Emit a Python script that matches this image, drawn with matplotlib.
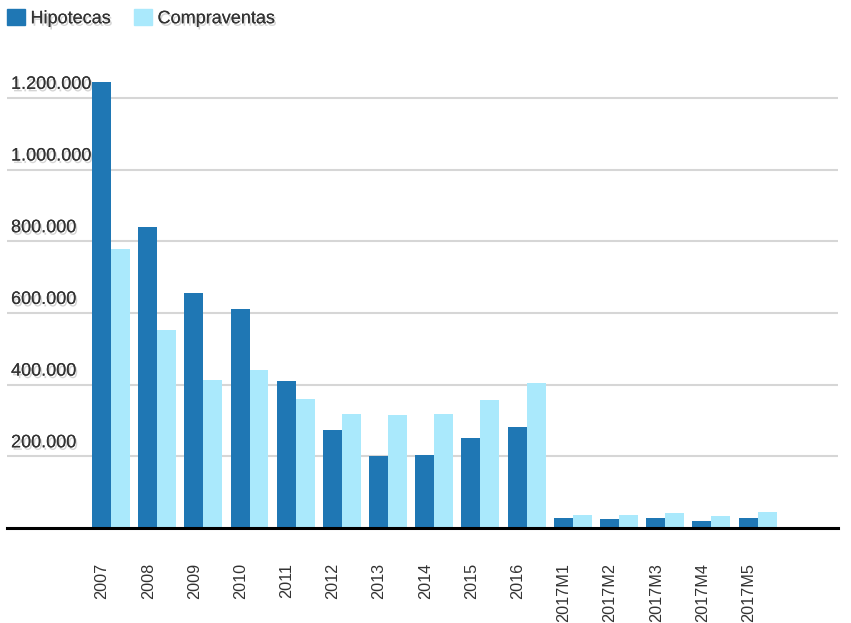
import numpy as np
import matplotlib.pyplot as plt
import matplotlib.transforms as mtransforms
import matplotlib.patheffects as pe
from matplotlib.patches import Patch

plt.rcParams['font.family'] = ['Liberation Sans', 'DejaVu Sans']

# data
categories = ["2007", "2008", "2009", "2010", "2011", "2012", "2013", "2014",
              "2015", "2016", "2017M1", "2017M2", "2017M3", "2017M4", "2017M5"]
hipotecas = [1244000, 840000, 655000, 611000, 410000, 273000, 201000, 204000,
             251000, 282000, 28000, 25000, 28000, 20000, 28000]
compraventas = [778000, 552000, 413000, 441000, 360000, 318000, 315000, 318000,
                357000, 404000, 37000, 37000, 42000, 34000, 45000]
yticks = [200000, 400000, 600000, 800000, 1000000, 1200000]
ytick_labels = ["200.000", "400.000", "600.000", "800.000", "1.000.000", "1.200.000"]

dark = "#1f77b4"
light = "#aae9fc"
text_color = "#333333"
shadow = [pe.withSimplePatchShadow(offset=(1.2, -1.8), shadow_rgbFace="#555555", alpha=0.25),
          pe.Normal()]

fig = plt.figure(figsize=(8.51, 6.23), dpi=100)
ax = fig.add_axes([7 / 851, 1 - 528 / 623, (838 - 7) / 851, (528 - 62) / 623])

x = np.arange(len(categories))
w = 0.411
ax.bar(x - w / 2, hipotecas, width=w, color=dark, zorder=3)
ax.bar(x + w / 2, compraventas, width=w, color=light, zorder=3)

ax.set_xlim(-2.25, 15.74)
ax.set_ylim(0, 1300000)

# grid lines
for v in yticks:
    ax.axhline(v, color="#d6d6d6", lw=1.5, zorder=1)

# y labels drawn inside the plot
lab_tr = mtransforms.offset_copy(ax.get_yaxis_transform(), fig=fig, x=4, y=9, units="dots")
for v, s in zip(yticks, ytick_labels):
    ax.text(0, v, s, transform=lab_tr, ha="left", va="baseline", fontsize=13,
            color=text_color, path_effects=shadow, zorder=4)

ax.set_yticks([])
for s in ["top", "right", "left"]:
    ax.spines[s].set_visible(False)
ax.spines["bottom"].set_linewidth(2.2)
ax.spines["bottom"].set_color("black")
ax.spines["bottom"].set_zorder(5)

ax.set_xticks(x)
ax.set_xticklabels(categories, rotation=90, fontsize=11.7, color=text_color)
ax.tick_params(axis="x", length=0, pad=25)
shift = mtransforms.ScaledTranslation(-9 / 100, 0, fig.dpi_scale_trans)
for lbl in ax.get_xticklabels():
    lbl.set_transform(lbl.get_transform() + shift)

handles = [Patch(color=dark, label="Hipotecas"), Patch(color=light, label="Compraventas")]
leg = fig.legend(handles=handles, loc="upper left", bbox_to_anchor=(7 / 851, 1 - 9 / 623),
                 ncol=2, frameon=False, fontsize=13, handlelength=1.0, handleheight=1.0,
                 handletextpad=0.3, columnspacing=1.3, borderpad=0, borderaxespad=0)
for t in leg.get_texts():
    t.set_color(text_color)
    t.set_path_effects(shadow)

fig.savefig("out.png", dpi=100)
